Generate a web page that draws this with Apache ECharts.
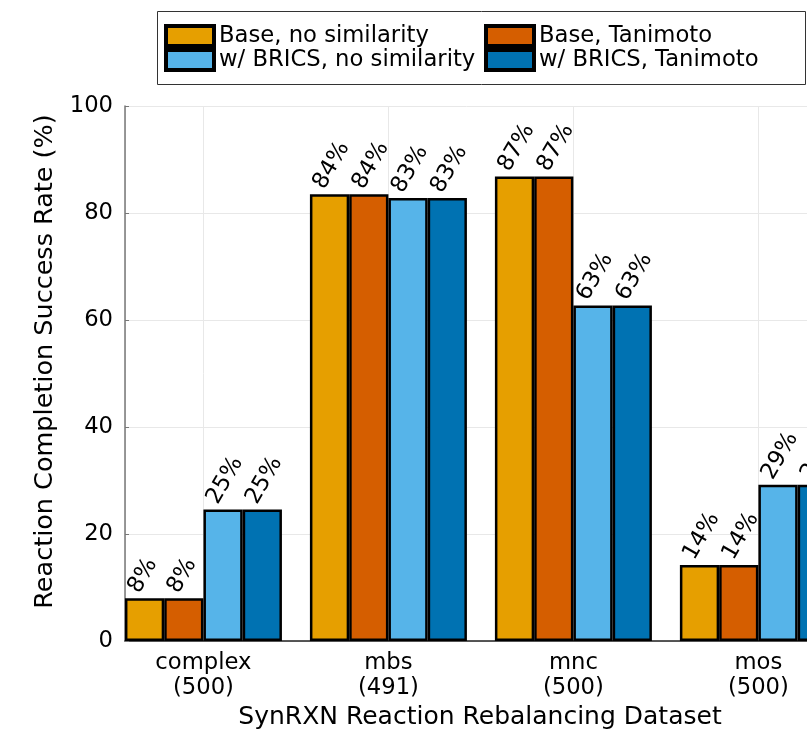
<!DOCTYPE html>
<html>
<head>
<meta charset="UTF-8">
<title>SynRXN Reaction Rebalancing</title>
<script src="https://cdn.jsdelivr.net/npm/echarts@6/dist/echarts.min.js"></script>
<style>
  body { margin: 0; background: #fff; }
  #chart { width: 807px; height: 729px; }
</style>
</head>
<body>
<div id="chart"></div>
<script type="text/javascript">
    // datasets and their sizes
    var categories = ['complex', 'mbs', 'mnc', 'mos'];
    var counts = [500, 491, 500, 500];
    var positions = [1, 2, 3, 4];

    // success rate (%) per method
    var baseNoSim = [8.0, 83.5, 86.8, 14.2];
    var baseTanimoto = [8.0, 83.5, 86.8, 14.2];
    var bricsNoSim = [24.6, 82.8, 62.7, 29.2];
    var bricsTanimoto = [24.6, 82.8, 62.7, 29.2];

    var seriesNames = ['Base, no similarity', 'Base, Tanimoto', 'w/ BRICS, no similarity', 'w/ BRICS, Tanimoto'];
    var seriesValues = [baseNoSim, baseTanimoto, bricsNoSim, bricsTanimoto];
    var colors = ['#E69F00', '#D55E00', '#56B4E9', '#0072B2'];

    var font = 'DejaVu Sans';
    var fs = 22.7;

    function makeSeries(i) {
        return {
            name: seriesNames[i],
            type: 'bar',
            barWidth: 39.25,
            barGap: '0%',
            data: positions.map(function (x, k) { return [x, seriesValues[i][k]]; }),
            itemStyle: {color: colors[i], borderColor: '#000', borderWidth: 2.5},
            label: {
                show: true,
                position: [9, -7],
                rotate: 60,
                align: 'left',
                verticalAlign: 'middle',
                fontFamily: font,
                fontSize: fs,
                color: '#000',
                formatter: function (p) { return Math.round(p.value[1]) + '%'; }
            }
        };
    }

    var legendBase = {
        orient: 'vertical',
        top: 24,
        padding: 0,
        icon: 'rect',
        itemWidth: 48, itemHeight: 20, itemGap: 0,
        itemStyle: {borderColor: '#000', borderWidth: 4},
        textStyle: {fontFamily: font, fontSize: fs, color: '#000', lineHeight: 24}
    };

    var option = {
        animation: false,
        backgroundColor: '#fff',
        grid: {left: 125, top: 106, width: 897, height: 535, containLabel: false, outerBoundsMode: 'none'},
        legend: [
            Object.assign({}, legendBase, {data: [seriesNames[0], seriesNames[2]], left: 164}),
            Object.assign({}, legendBase, {data: [seriesNames[1], seriesNames[3]], left: 484})
        ],
        graphic: [
            {
                type: 'rect',
                shape: {x: 157.5, y: 11.5, width: 648, height: 73},
                style: {fill: null, stroke: '#333', lineWidth: 1},
                z: 0
            },
            {
                type: 'text',
                x: 480, y: 717,
                style: {
                    text: 'SynRXN Reaction Rebalancing Dataset',
                    font: '25px "DejaVu Sans"',
                    fill: '#000',
                    align: 'center',
                    verticalAlign: 'middle'
                }
            }
        ],
        xAxis: {
            type: 'value',
            min: 0.576,
            max: 5.425,
            minInterval: 1,
            maxInterval: 1,
            axisLine: {show: true, lineStyle: {color: '#222', width: 1.5}},
            axisTick: {show: false},
            splitLine: {show: true, lineStyle: {color: '#e8e8e8', width: 1}},
            axisLabel: {
                margin: 10,
                fontFamily: font,
                fontSize: fs,
                lineHeight: 25,
                color: '#000',
                formatter: function (v) {
                    var r = Math.round(v);
                    if (Math.abs(v - r) > 1e-6) return '';
                    var k = positions.indexOf(r);
                    if (k < 0) return '';
                    return categories[k] + '\n(' + counts[k] + ')';
                }
            }
        },
        yAxis: {
            type: 'value',
            min: 0,
            max: 100,
            interval: 20,
            name: 'Reaction Completion Success Rate (%)',
            nameLocation: 'middle',
            nameGap: 65,
            nameTextStyle: {fontFamily: font, fontSize: 25.5, color: '#000', padding: [0, 0, 0, 24]},
            axisLine: {show: true, lineStyle: {color: '#777', width: 1.5}},
            axisTick: {show: true, inside: true, length: 4, lineStyle: {color: '#777'}},
            splitLine: {show: true, lineStyle: {color: '#e8e8e8', width: 1}},
            axisLabel: {margin: 12, fontFamily: font, fontSize: fs, color: '#000'}
        },
        series: [makeSeries(0), makeSeries(1), makeSeries(2), makeSeries(3)]
    };

    var myChart = echarts.init(document.getElementById('chart'));
    myChart.setOption(option);
</script>
</body>
</html>
